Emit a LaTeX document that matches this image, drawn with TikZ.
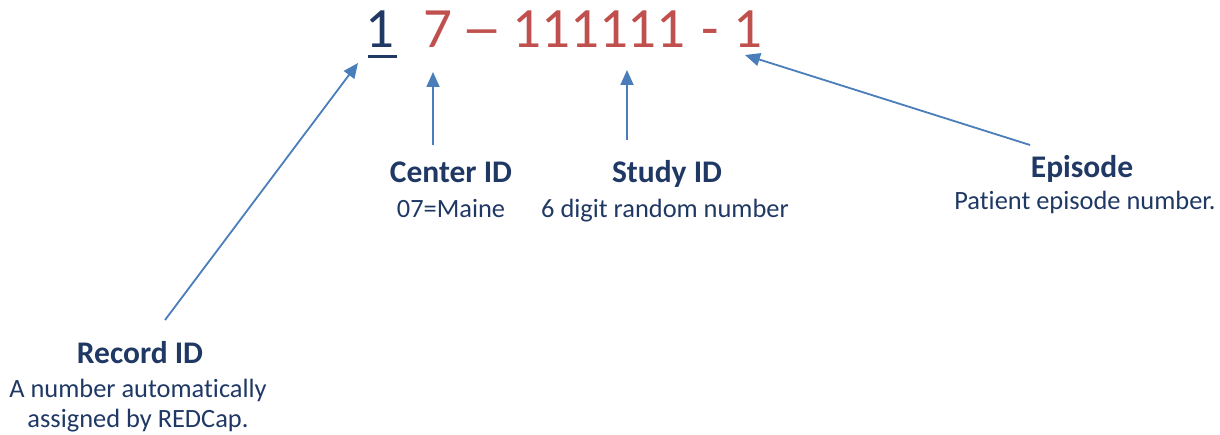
\documentclass[tikz,border=0pt]{standalone}
\usepackage{fontspec}
\setmainfont{Carlito}[RawFeature=-liga]
\usetikzlibrary{arrows.meta}
\definecolor{navy}{HTML}{1F3864}
\definecolor{redid}{HTML}{C0504D}
\definecolor{arrowblue}{HTML}{4A7EBB}
\begin{document}
\begin{tikzpicture}[x=1pt,y=-1pt,
  digit/.style={inner sep=0pt,anchor=base,text=redid,font=\fontsize{57}{60}\selectfont},
  ttl/.style={inner sep=0pt,anchor=base,text=navy,font=\fontsize{31.5}{34}\selectfont\bfseries},
  sub/.style={inner sep=0pt,anchor=base,text=navy,align=center,font=\fontsize{26.4}{29.5}\selectfont},
  arr/.style={draw=arrowblue,line width=1.8pt,-{Triangle[length=15pt,width=13pt]}}]
\useasboundingbox (0,0) rectangle (1220,435);
% number
\node[digit,text=navy] (rec) at (380,48) {1};
\draw[navy,line width=3pt] (368,56.5) -- (397,56.5);
\node[digit] (ctr) at (438,48) {7};
\node[digit] (dash1) at (482,48) {\scalebox{1.45}[1]{–}};
\node[digit] (study) at (599,48) {111111};
\node[digit] (dash2) at (710,48) {-};
\node[digit] (epi) at (748,48) {1};
% labels
\node[ttl] (rect) at (140,363) {Record ID};
\node[sub] (recs) at (138,427) {A number automatically\\assigned by REDCap.};
\node[ttl] (ctrt) at (451,183) {Center ID};
\node[sub] (ctrs) at (451,218) {07=Maine};
\node[ttl] (stdt) at (667,183) {Study ID};
\node[sub] (stds) at (665,218) {6 digit random number};
\node[ttl] (epit) at (1082,178) {Episode};
\node[sub] (epis) at (1085,210) {Patient episode number.};
% arrow ends
\coordinate (rectail) at (165,320);
\coordinate (ctrtail) at (433,145);
\coordinate (stdtail) at (627,140);
\coordinate (epitail) at (1030,145);
\coordinate (rechead) at (358,63);
\coordinate (ctrhead) at (433,72);
\coordinate (stdhead) at (627,70);
\coordinate (epihead) at (745,55);
\draw[arr] (rectail) -- (rechead);
\draw[arr] (ctrtail) -- (ctrhead);
\draw[arr] (stdtail) -- (stdhead);
\draw[arr] (epitail) -- (epihead);
\end{tikzpicture}
\end{document}
